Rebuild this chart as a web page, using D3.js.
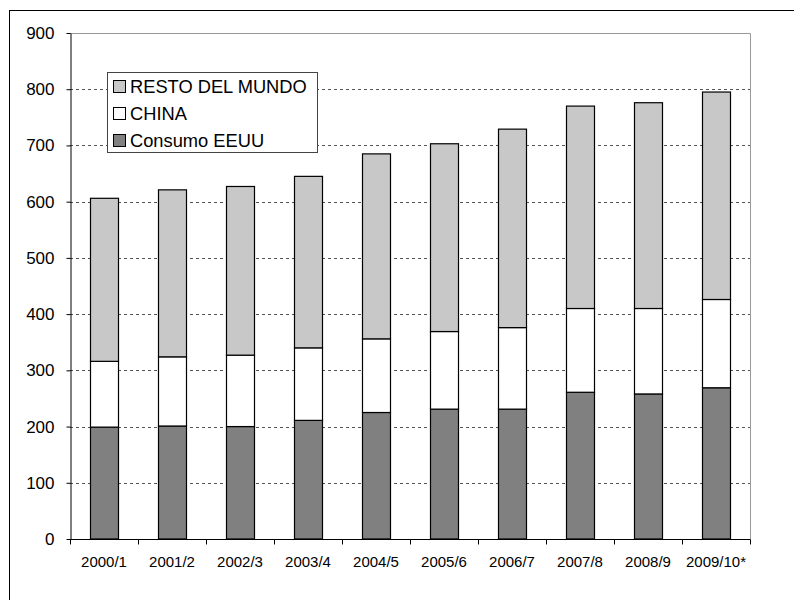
<!DOCTYPE html>
<html>
<head>
<meta charset="utf-8">
<script src="https://cdn.jsdelivr.net/npm/d3@7"></script>
<style>
  body { margin: 0; background: #fff; }
  svg { display: block; font-family: Arial, "Liberation Sans", sans-serif; }
</style>
</head>
<body>
<svg id="chart" width="794" height="600"></svg>
<script>
const campanias = ["2000/1", "2001/2", "2002/3", "2003/4", "2004/5", "2005/6", "2006/7", "2007/8", "2008/9", "2009/10*"];
// valores (cada tramo de la barra)
const consumoEEUU = [199, 201, 200, 211, 225, 231, 231, 261, 258, 269];
const china = [117, 123, 127, 129, 131, 138, 145, 149, 152, 157];
const restoMundo = [290, 297, 300, 305, 329, 334, 353, 360, 366, 369];
const ticksY = [0, 100, 200, 300, 400, 500, 600, 700, 800, 900];

const series = [
  { key: "usa", nombre: "Consumo EEUU", valores: consumoEEUU, color: "#808080" },
  { key: "china", nombre: "CHINA", valores: china, color: "#ffffff" },
  { key: "resto", nombre: "RESTO DEL MUNDO", valores: restoMundo, color: "#c8c8c8" }
];

const filas = campanias.map((c, i) => ({ c, usa: consumoEEUU[i], china: china[i], resto: restoMundo[i] }));
const apilado = d3.stack().keys(series.map(s => s.key))(filas);

const svg = d3.select("#chart");
const mIzq = 70, mDer = 750, mSup = 33, mInf = 539;

// marco exterior
svg.append("rect")
  .attr("x", 9.5).attr("y", 10.5)
  .attr("width", 800).attr("height", 600)
  .attr("fill", "none").attr("stroke", "#000").attr("stroke-width", 1);

const x = d3.scaleBand().domain(campanias).range([mIzq, mDer]).paddingInner(0.59).paddingOuter(0.295);
const y = d3.scaleLinear().domain([0, 900]).range([mInf, mSup]);

// lineas de grilla
svg.append("g")
  .selectAll("line")
  .data(ticksY.filter(t => t > 0 && t < 900))
  .enter().append("line")
  .attr("x1", mIzq).attr("x2", mDer)
  .attr("y1", d => Math.round(y(d)) + 0.5).attr("y2", d => Math.round(y(d)) + 0.5)
  .attr("stroke", "#555").attr("stroke-dasharray", "3,3");

// borde superior y derecho del area
svg.append("path")
  .attr("d", `M${mIzq},${mSup + 0.5}H${mDer + 0.5}V${mInf}`)
  .attr("fill", "none").attr("stroke", "#999");

// barras apiladas
svg.append("g")
  .selectAll("g")
  .data(apilado)
  .enter().append("g")
  .attr("fill", (d, i) => series[i].color)
  .selectAll("rect")
  .data(d => d)
  .enter().append("rect")
  .attr("x", d => Math.round(x(d.data.c)) + 0.5)
  .attr("width", Math.round(x.bandwidth()))
  .attr("y", d => y(d[1]))
  .attr("height", d => y(d[0]) - y(d[1]))
  .attr("stroke", "#000").attr("stroke-width", 1.2);

// eje Y
const ejeY = svg.append("g")
  .attr("transform", `translate(${mIzq + 0.5},0)`)
  .call(d3.axisLeft(y).tickValues(ticksY).tickSize(4).tickPadding(12).tickSizeOuter(0));
ejeY.select(".domain").attr("stroke", "#000");
ejeY.selectAll("text").attr("font-size", "17px").attr("fill", "#000").attr("font-family", "Arial, 'Liberation Sans', sans-serif");

// eje X con marcas entre categorias
const ejeX = svg.append("g").attr("transform", `translate(0,${mInf + 0.5})`);
ejeX.append("line").attr("x1", mIzq).attr("x2", mDer + 0.5).attr("stroke", "#000");
const paso = (mDer - mIzq) / campanias.length;
ejeX.selectAll("line.tick")
  .data(d3.range(campanias.length + 1))
  .enter().append("line")
  .attr("class", "tick")
  .attr("x1", i => Math.round(mIzq + i * paso) + 0.5).attr("x2", i => Math.round(mIzq + i * paso) + 0.5)
  .attr("y1", 0).attr("y2", 5)
  .attr("stroke", "#000");
ejeX.selectAll("text")
  .data(campanias)
  .enter().append("text")
  .attr("x", d => x(d) + x.bandwidth() / 2)
  .attr("y", 22.5)
  .attr("dy", "0.35em")
  .attr("text-anchor", "middle")
  .attr("font-size", "15px")
  .text(d => d);

// leyenda
const leyenda = svg.append("g").attr("transform", "translate(107.5,72.5)");
leyenda.append("rect")
  .attr("width", 210).attr("height", 80)
  .attr("fill", "#fff").attr("stroke", "#444");
const ordenLeyenda = series.slice().reverse();
ordenLeyenda.forEach((s, i) => {
  const cy = 14 + i * 27;
  leyenda.append("rect")
    .attr("x", 6).attr("y", cy - 6)
    .attr("width", 12).attr("height", 12)
    .attr("fill", s.color).attr("stroke", "#000");
  leyenda.append("text")
    .attr("x", 22.5).attr("y", cy)
    .attr("dy", "0.36em")
    .attr("font-size", "18.3px")
    .text(s.nombre);
});
</script>
</body>
</html>
